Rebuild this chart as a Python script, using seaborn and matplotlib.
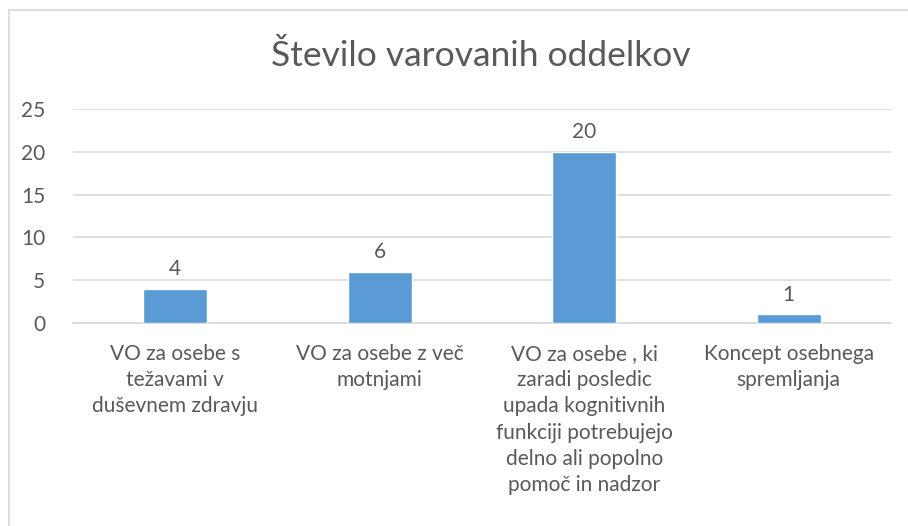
import matplotlib
matplotlib.use("Agg")
import matplotlib.pyplot as plt
import seaborn as sns
import pandas as pd
from matplotlib.patches import Rectangle

categories = [
    "VO za osebe s\ntežavami v\nduševnem zdravju",
    "VO za osebe z več\nmotnjami",
    "VO za osebe , ki\nzaradi posledic\nupada kognitivnih\nfunkciji potrebujejo\ndelno ali popolno\npomoč in nadzor",
    "Koncept osebnega\nspremljanja",
]
values = [4, 6, 20, 1]
title = "Število varovanih oddelkov"

sns.set_theme(style="white")
plt.rcParams["font.family"] = ["Lato", "DejaVu Sans"]
text_color = "#595959"
fs = 15

df = pd.DataFrame({"cat": categories, "val": values})

fig = plt.figure(figsize=(9.08, 5.26), dpi=100)
ax = fig.add_axes([73 / 908, 1 - 323 / 526, (891 - 73) / 908, (323 - 109) / 526])

sns.barplot(data=df, x="cat", y="val", color="#5b9bd5", width=0.315, ax=ax,
            saturation=1, zorder=3)

ax.set_ylim(0, 25)
ax.set_yticks([0, 5, 10, 15, 20, 25])
ax.set_xlim(-0.5, 3.5)
ax.yaxis.grid(True, color="#d9d9d9", linewidth=1.2, zorder=0)
ax.set_axisbelow(True)
for s in ax.spines.values():
    s.set_visible(False)
ax.spines["bottom"].set_visible(True)
ax.spines["bottom"].set_color("#d9d9d9")
ax.spines["bottom"].set_linewidth(1.2)

ax.set_xlabel("")
ax.set_ylabel("")
ax.tick_params(axis="y", length=0, pad=20, labelsize=fs, labelcolor=text_color)
ax.tick_params(axis="x", length=0, pad=15, labelsize=fs, labelcolor=text_color)
for lbl in ax.get_xticklabels():
    lbl.set_linespacing(1.39)
    lbl.set_verticalalignment("top")

for p, v in zip(ax.patches, values):
    ax.annotate(str(v), (p.get_x() + p.get_width() / 2, p.get_height()),
                xytext=(0, 7), textcoords="offset points", ha="center", va="bottom",
                fontsize=fs, color=text_color)

fig.text(481 / 908, 1 - 56 / 526, title, ha="center", va="center",
         fontsize=25.5, color=text_color)

fig.patches.append(Rectangle((9 / 908, -0.1), 1.2, 1.1 - 10 / 526,
                             transform=fig.transFigure, fill=False,
                             edgecolor="#d9d9d9", linewidth=1.2))

fig.savefig("out.png", dpi=100)
